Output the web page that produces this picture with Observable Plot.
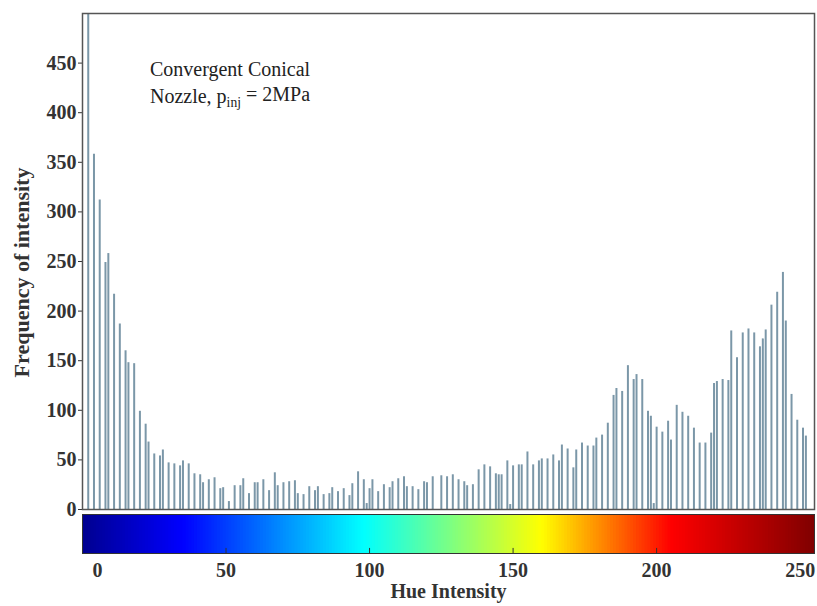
<!DOCTYPE html>
<html><head><meta charset="utf-8">
<script src="https://cdn.jsdelivr.net/npm/d3@7"></script>
<script src="https://cdn.jsdelivr.net/npm/@observablehq/plot@0.6"></script>
<style>body{margin:0;background:#fff;} svg{display:block}</style>
</head><body><div id="chart"></div>
<script>
// Hue bins (0–255) that carry a bar, and the frequency of each
const hue = [2,4,6,8,9,11,13,15,16,18,20,22,23,25,27,28,30,32,34,35,37,39,41,42,44,46,48,49,51,53,55,56,58,60,61,63,65,67,68,70,72,74,75,77,79,81,82,84,86,87,89,91,93,94,96,98,99,100,101,103,105,107,108,110,112,113,115,117,119,120,122,125,127,129,131,133,134,136,138,140,142,144,145,146,148,149,150,152,153,155,157,159,160,162,164,166,167,169,171,172,174,176,178,179,181,183,185,186,188,190,192,193,195,197,198,199,200,202,204,205,207,209,211,213,215,217,219,220,221,223,225,226,228,230,232,234,236,237,238,240,242,244,245,247,249,251,252];
const freq = [560,358,312,249,258,217,187,160,148,147,99,86,68,56,54,60,47,46,44,49,46,36,35,27,30,32,21,22,8,24,24,31,16,27,27,30,19,37,24,27,28,29,16,15,23,19,23,15,16,22,18,21,14,26,38,30,6,21,30,18,25,22,28,31,33,23,23,20,28,27,33,34,33,35,30,28,24,25,40,45,43,36,35,35,49,5,44,45,45,58,45,49,51,51,55,49,65,61,42,60,67,64,64,72,75,87,115,122,119,145,131,136,131,99,94,6,83,78,89,70,105,98,94,82,67,67,77,127,129,131,130,180,153,178,182,178,164,172,181,206,219,239,190,116,90,82,74];
const yTicks = [0,50,100,150,200,250,300,350,400,450];
const xTicks = [0,50,100,150,200,250];
const annotationText = "Convergent Conical\nNozzle, pinj = 2MPa";
const annotationAt = {hue: 23.5, freq: 456};
const jetStops = [0,35,98,160,205,255];
const jetColors = ["#00008f","#0000ff","#00ffff","#ffff00","#ff0000","#800000"];

const data = hue.map((h,i)=>({hue:h, freq:freq[i]}));
const jet = d3.scaleLinear().domain(jetStops).range(jetColors);
const font = "'Liberation Serif','Times New Roman',serif";
const style = {fontFamily: font, fontSize: "20px", fontWeight: "bold", color: "#333", background: "white", overflow: "visible"};

const hist = Plot.plot({
  width: 817, height: 512, marginLeft: 82, marginRight: 3, marginTop: 13, marginBottom: 3,
  style,
  x: {domain: [0,255], axis: null},
  y: {domain: [0,500]},
  marks: [
    Plot.ruleX(data, {x: "hue", y: "freq", stroke: "#7b97a8", strokeWidth: 2, clip: true}),
    Plot.axisY(yTicks, {tickSize: 4, tickPadding: 2, label: "Frequency of intensity", labelAnchor: "center", labelOffset: 69, labelArrow: "none"}),
    Plot.text([annotationText], {x: annotationAt.hue, y: annotationAt.freq, textAnchor: "start", lineAnchor: "top", lineHeight: 1.35, fontWeight: "normal", fontSize: 20, fill: "#222"}),
    Plot.frame({stroke: "#555", strokeWidth: 1.5})
  ]
});

const cells = d3.range(0, 255);
const cbar = Plot.plot({
  width: 817, height: 94, marginLeft: 82, marginRight: 3, marginTop: 2, marginBottom: 53,
  style,
  x: {domain: [0,255]},
  y: {domain: [0,1], axis: null},
  marks: [
    Plot.rect(cells, {x1: d=>d, x2: d=>Math.min(d+1.6, 255), y1: 0, y2: 1, fill: d=>jet(d+0.5)}),
    Plot.ruleX(xTicks.slice(1,-1), {y1: 0, y2: 0.13, stroke: "#333"}),
    Plot.frame({stroke: "#333"}),
    Plot.axisX(xTicks.slice(1), {tickSize: 0, tickPadding: 9, label: "Hue Intensity", labelAnchor: "center", labelOffset: 44, labelArrow: "none"}),
    Plot.axisX([xTicks[0]], {tickSize: 0, tickPadding: 9, dx: 15, label: null})
  ]
});

// subscript "inj"
d3.select(hist).selectAll("tspan").filter(function(){ return this.textContent.includes("pinj"); })
  .each(function(){
    const t = d3.select(this);
    t.text("Nozzle, p");
    t.append("tspan").attr("font-size", "0.68em").attr("dy", "0.3em").text("inj");
    t.append("tspan").attr("dy", "-0.3em").text(" = 2MPa");
  });
// larger y-axis title, nudged down a little as in the reference
d3.select(hist).selectAll("g[aria-label='y-axis label']")
  .each(function(){
    const prev = this.getAttribute("transform") || "";
    this.setAttribute("transform", "translate(0,11) " + prev);
  })
  .selectAll("text").attr("font-size", 22);

const el = document.getElementById("chart");
el.append(hist, cbar);
</script>
</body></html>
